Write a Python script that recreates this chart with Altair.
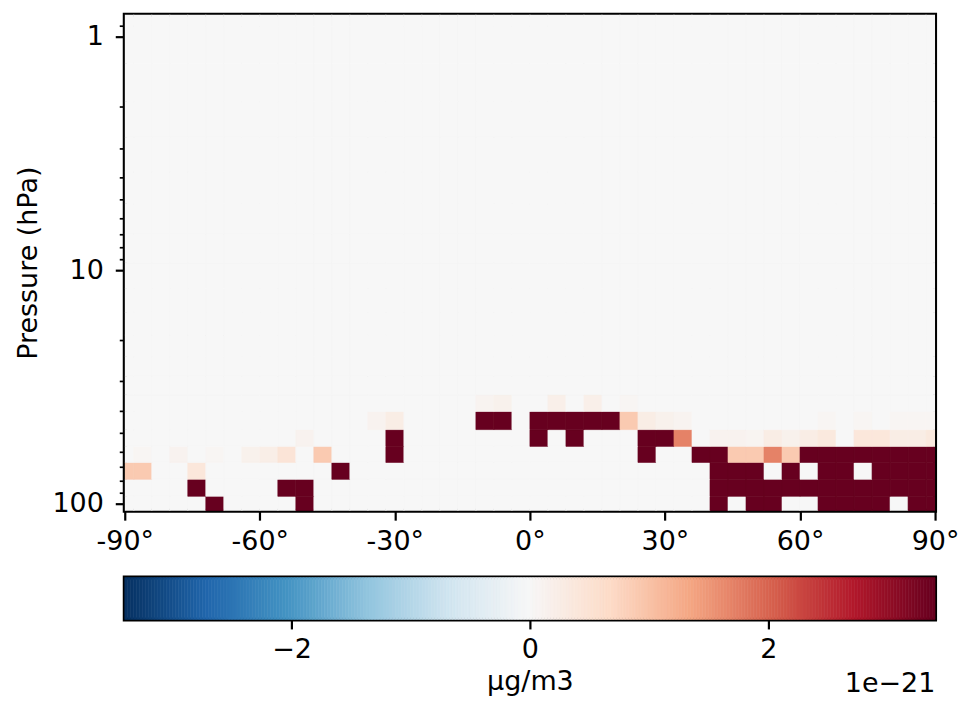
import altair as alt
import pandas as pd
import numpy as np

# latitude cell edges (deg)
lat_edges = [-90, -88, -84, -80, -76, -72, -68, -64, -60, -56, -52, -48, -44, -40,
             -36, -32, -28, -24, -20, -16, -12, -8, -4, 0, 4, 8, 12, 16, 20, 24, 28,
             32, 36, 40, 44, 48, 52, 56, 60, 64, 68, 72, 76, 80, 84, 88, 90]
# pressure level edges (hPa), bottom to top
p_edges = [110, 93.3, 78.9, 66.8, 57.0, 48.3, 40.4, 34.2, 28.5, 23.5, 19.0, 15.2,
           12.0, 9.3, 7.0, 5.2, 3.8, 2.7, 1.9, 1.3, 0.9, 0.7]

D = 4.0  # saturated (beyond colour range)
# values in units of 1e-21 ug/m3, one list per level (46 latitude cells)
row0 = [0, 0, 0, 0, 0, D, 0, 0, 0, 0,
        D, 0, 0, 0, 0, 0, 0, 0, 0, 0,
        0, 0, 0, 0, 0, 0, 0, 0, 0, 0,
        0, 0, 0, D, 0, D, D, 0, 0, D,
        D, D, D, 0, D, D]
row1 = [0, 0, 0, 0, D, 0, 0, 0, 0, D,
        D, 0, 0, 0, 0, 0, 0, 0, 0, 0,
        0, 0, 0, 0, 0, 0, 0, 0, 0, 0,
        0, 0, 0, D, D, D, D, D, D, D,
        D, D, D, D, D, D]
row2 = [0.9, 0.9, 0, 0, 0.4, 0, 0, 0, 0, 0,
        0, 0, D, 0, 0, 0, 0, 0, 0, 0,
        0, 0, 0, 0, 0, 0, 0, 0, 0, 0,
        0, 0, 0, D, D, D, 0, D, 0, D,
        D, 0, D, D, D, D]
row3 = [0, 0.06, 0, 0.12, 0, 0.06, 0, 0.15, 0.22, 0.45,
        0, 0.9, 0, 0, 0, D, 0, 0, 0, 0,
        0, 0, 0, 0, 0, 0, 0, 0, 0, D,
        0, 0, D, D, 0.9, 0.9, 1.7, 0.9, D, D,
        D, D, D, D, D, D]
row4 = [0, 0, 0, 0, 0, 0, 0, 0, 0, 0,
        0.12, 0, 0, 0, 0, D, 0, 0, 0, 0,
        0, 0, 0, D, 0, D, 0, 0, 0, D,
        D, 1.7, 0, 0.12, 0.12, 0.08, 0.25, 0.15, 0.25, 0.35,
        0, 0.4, 0.4, 0.25, 0.25, 0.35]
row5 = [0, 0, 0, 0, 0, 0, 0, 0, 0, 0,
        0, 0, 0, 0, 0.12, 0.25, 0, 0, 0, 0,
        D, D, 0, D, D, D, D, D, 0.9, 0.25,
        0.15, 0.1, 0, 0, 0, 0, 0, 0, 0, 0.06,
        0, 0.06, 0, 0.06, 0.06, 0.06]
row6 = [0, 0, 0, 0, 0, 0, 0, 0, 0, 0,
        0, 0, 0, 0, 0, 0, 0, 0, 0, 0,
        0.1, 0.15, 0, 0, 0.2, 0, 0.2, 0, 0.06, 0,
        0, 0, 0, 0, 0, 0, 0, 0, 0, 0,
        0, 0, 0, 0, 0, 0]
data_rows = [row0, row1, row2, row3, row4, row5, row6]

VMAX = 3.4
# matplotlib RdBu_r control colours
rdbu_r = ["#053061", "#2166ac", "#4393c3", "#92c5de", "#d1e5f0", "#f7f7f7",
          "#fddbc7", "#f4a582", "#d6604d", "#b2182b", "#67001f"]
cbar_ticks = [-2, 0, 2]
x_ticks = [-90, -60, -30, 0, 30, 60, 90]
y_ticks = [0.8, 0.9, 1, 2, 3, 4, 5, 6, 7, 8, 9, 10, 20, 30, 40, 50, 60, 70, 80, 90, 100]

recs = []
n_rows = len(p_edges) - 1
for r in range(n_rows):
    vals = data_rows[r] if r < len(data_rows) else [0] * (len(lat_edges) - 1)
    for k in range(len(lat_edges) - 1):
        recs.append(dict(lat0=lat_edges[k], lat1=lat_edges[k + 1],
                         p0=p_edges[r], p1=p_edges[r + 1], v=vals[k]))
df = pd.DataFrame(recs)

FONT = "DejaVu Sans"
FS = 27
stops = list(np.linspace(-VMAX, VMAX, len(rdbu_r)))
color_scale = alt.Scale(type="linear", domain=stops, range=rdbu_r,
                        interpolate="rgb", clamp=True)

major = "datum.value == 1 || datum.value == 10 || datum.value == 100"

heat = alt.Chart(df).mark_rect(clip=True, strokeWidth=0.6).encode(
    x=alt.X("lat0:Q", scale=alt.Scale(domain=[-90, 90], nice=False, zero=False),
            axis=alt.Axis(values=x_ticks, labelExpr="datum.value + '°'", title=None,
                          tickSize=9.5, tickWidth=2.2, tickColor="black",
                          labelPadding=8, labelFontSize=FS, labelFont=FONT,
                          labelColor="black", domain=False, grid=False,
                          labelFlush=False, labelOverlap=False)),
    x2="lat1:Q",
    y=alt.Y("p0:Q", scale=alt.Scale(type="log", domain=[0.805, 107.5], nice=False,
                                     reverse=True, zero=False),
            axis=alt.Axis(values=y_ticks,
                          labelExpr="datum.value == 1 ? '1' : datum.value == 10 ? '10' : datum.value == 100 ? '100' : ''",
                          title="Pressure (hPa)", titleFont=FONT, titleFontSize=FS,
                          titleFontWeight="normal", titleColor="black", titlePadding=9,
                          tickSize={"condition": {"test": major, "value": 9.5}, "value": 5.5},
                          tickWidth={"condition": {"test": major, "value": 2.2}, "value": 1.7},
                          labelFontSize={"condition": {"test": major, "value": FS}, "value": 0},
                          tickColor="black", labelPadding=12,
                          labelFont=FONT, labelColor="black", domain=False, grid=False,
                          labelFlush=False, labelOverlap=False, labelBaseline="middle")),
    y2="p1:Q",
    color=alt.Color("v:Q", scale=color_scale, legend=None),
    stroke=alt.Stroke("v:Q", scale=color_scale, legend=None),
).properties(width=812, height=497)

cb_edges = np.linspace(-VMAX, VMAX, 273)
cb = pd.DataFrame({"c0": cb_edges[:-1], "c1": cb_edges[1:],
                   "cm": (cb_edges[:-1] + cb_edges[1:]) / 2})

cbar = alt.Chart(cb).mark_rect(strokeWidth=0.6).encode(
    x=alt.X("c0:Q", scale=alt.Scale(domain=[-VMAX, VMAX], nice=False, zero=False),
            axis=alt.Axis(values=cbar_ticks,
                          labelExpr="datum.value < 0 ? '\u2212' + abs(datum.value) : '' + datum.value",
                          title="µg/m3", titleFont=FONT, titleFontSize=FS,
                          titleFontWeight="normal", titleColor="black", titlePadding=6,
                          tickSize=9.5, tickWidth=2.2, tickColor="black",
                          labelPadding=8, labelFontSize=FS, labelFont=FONT,
                          labelColor="black", domain=False, grid=False)),
    x2="c1:Q",
    color=alt.Color("cm:Q", scale=color_scale, legend=None),
    stroke=alt.Stroke("cm:Q", scale=color_scale, legend=None),
).properties(
    width=812, height=42,
    title=alt.TitleParams("1e\u221221", orient="bottom", anchor="end", offset=-24,
                          font=FONT, fontSize=FS, fontWeight="normal", color="black"),
)

chart = alt.vconcat(heat, cbar, spacing=67, bounds="flush").properties(
    padding={"left": 4, "top": 4, "right": 5, "bottom": 5}
).configure(font=FONT).configure_view(
    stroke="black", strokeWidth=4, fill="#f7f7f7"
)

chart.save("out.html", embed_options={"renderer": "svg", "actions": False})
